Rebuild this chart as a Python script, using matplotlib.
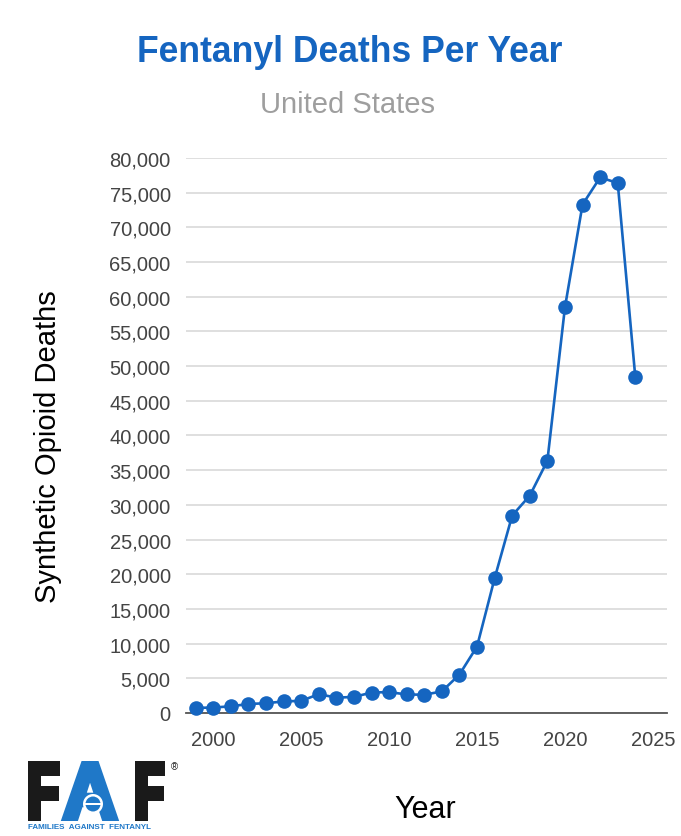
import matplotlib.pyplot as plt
from matplotlib.ticker import FuncFormatter
from matplotlib.textpath import TextPath
from matplotlib.patches import PathPatch, Circle, Rectangle
from matplotlib.font_manager import FontProperties
from matplotlib.transforms import Affine2D, IdentityTransform

years = list(range(1999, 2025))
deaths = [730, 782, 957, 1295, 1400, 1664, 1742, 2707, 2213, 2306,
          2946, 3007, 2666, 2628, 3105, 5544, 9580, 19413, 28466, 31335,
          36359, 58500, 73300, 77200, 76400, 48400]

y_ticks = list(range(0, 80001, 5000))
x_ticks = [2000, 2005, 2010, 2015, 2020, 2025]

blue = '#1565c0'
logo_blue = '#1f78c8'
plt.rcParams['font.family'] = ['Liberation Sans', 'DejaVu Sans']

W, H = 681, 837
fig = plt.figure(figsize=(W / 100, H / 100), dpi=100)
ax = fig.add_axes([0.2731, 0.147, 0.7063, 0.663])

ax.plot(years, deaths, color=blue, lw=1.9, marker='o', ms=10.5,
        markeredgewidth=0, clip_on=False, zorder=3)

ax.set_xlim(1998.45, 2025.8)
ax.set_ylim(0, 80000)
ax.set_yticks(y_ticks)
ax.set_xticks(x_ticks)
ax.yaxis.set_major_formatter(FuncFormatter(lambda v, p: f'{int(v):,}'))
ax.tick_params(axis='both', length=0, labelsize=14.5, labelcolor='#444444')
ax.tick_params(axis='y', pad=11)
ax.tick_params(axis='x', pad=12)
ax.grid(axis='y', color='#d6d6d6', lw=1.1)
ax.set_axisbelow(True)
for s in ['top', 'right', 'left']:
    ax.spines[s].set_visible(False)
ax.spines['bottom'].set_color('#555555')
ax.spines['bottom'].set_linewidth(1.3)

fig.text(48 / W, 1 - 447 / H, 'Synthetic Opioid Deaths', fontsize=21,
         rotation=90, ha='center', va='center')
fig.text(0.624, 0.032, 'Year', fontsize=22, ha='center', va='center')

fig.text(0.514, 0.937, 'Fentanyl Deaths Per Year', fontsize=25.6, fontweight='bold',
         color=blue, ha='center', va='center')
fig.text(0.511, 0.875, 'United States', fontsize=21, color='#9e9e9e',
         ha='center', va='center')

# FAF logo, heavy letters squeezed into their boxes (pixel coords, top-left origin)
bold = FontProperties(family='Liberation Sans', weight='bold')
letters = [('F', 28, 60, '#1a1a1a'), ('A', 62, 118, logo_blue), ('F', 135, 165, '#1a1a1a')]
top, bottom = 762, 822
grow = 3.0  # stroke half-width in px, to make the letters heavier
for ch, x0, x1, col in letters:
    tp = TextPath((0, 0), ch, size=100, prop=bold)
    ext = tp.get_extents()
    tr = (Affine2D().translate(-ext.x0, -ext.y0)
          .scale((x1 - x0 - 2 * grow) / ext.width, (bottom - top - 2 * grow) / ext.height)
          .translate(x0 + grow, H - bottom + grow))
    fig.patches.append(PathPatch(tr.transform_path(tp), facecolor=col, edgecolor=col,
                                 lw=2 * grow * 0.72, joinstyle='miter',
                                 transform=IdentityTransform()))
cx, cy = 93, H - 805
fig.patches.append(Circle((cx, cy), 10, color='white', lw=0, transform=IdentityTransform()))
fig.patches.append(Circle((cx, cy), 7.5, color=logo_blue, lw=0, transform=IdentityTransform()))
fig.patches.append(Rectangle((cx - 8, cy - 1.2), 16, 2.4, color='white', lw=0,
                             transform=IdentityTransform()))
fig.text(174 / W, 1 - 767 / H, '\u00ae', fontsize=7, color='#1a1a1a', ha='center', va='center')
fig.text(28 / W, 1 - 828 / H, 'FAMILIES  AGAINST  FENTANYL', fontsize=5.8, fontweight='bold',
         color=logo_blue, ha='left', va='center')

fig.savefig('out.png', dpi=100)
